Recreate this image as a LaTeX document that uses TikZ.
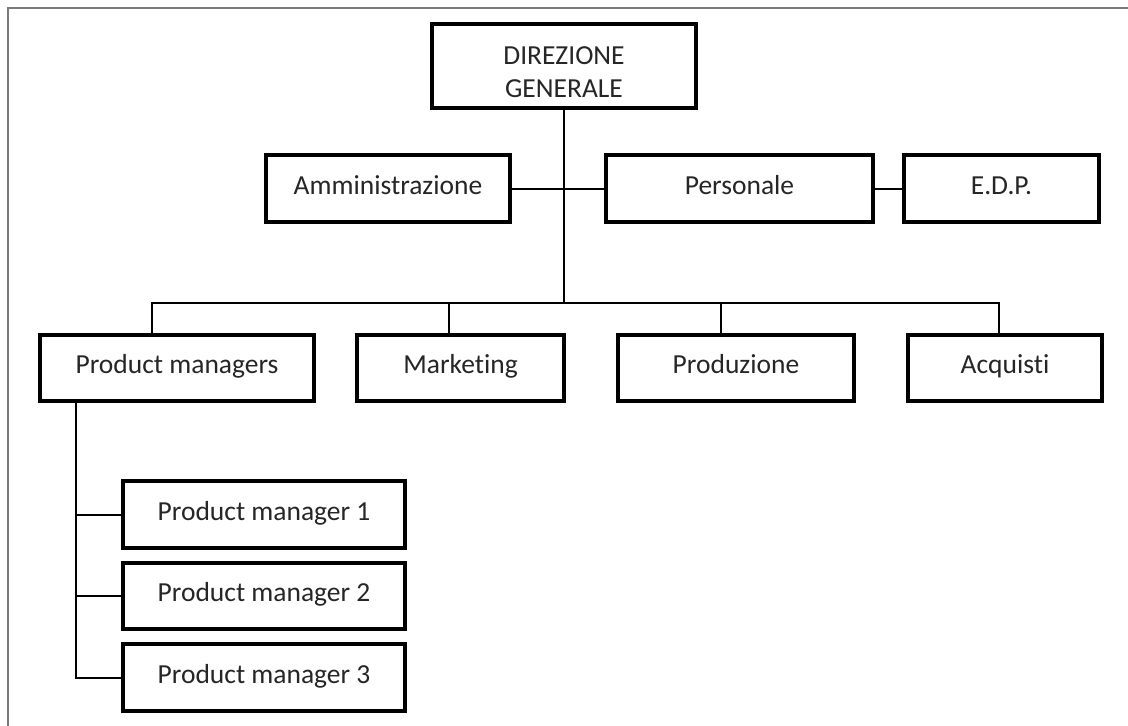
\documentclass[tikz,border=0pt]{standalone}
\usepackage{fontspec}
\setmainfont{Carlito}[RawFeature=-liga]
\definecolor{txt}{HTML}{262626}
\definecolor{frame}{HTML}{7A7A7A}
\begin{document}
\begin{tikzpicture}[x=1pt,y=-1pt,
  box/.style={draw=black,line width=2.6pt,fill=white,rectangle,inner sep=0pt,
    minimum height=65pt,text=txt,font=\fontsize{27.5}{33}\selectfont,
    text height=18pt,text depth=7pt},
  bigbox/.style={draw=black,line width=2.6pt,fill=white,rectangle,inner sep=0pt,
    text=txt,font=\fontsize{27.5}{33}\selectfont},
  conn/.style={draw=black,line width=2pt},
  framel/.style={draw=frame,line width=2.2pt}]
\useasboundingbox (0,0) rectangle (1128,726);
\fill[white] (0,0) rectangle (1128,726);
% frame (top and left only)
\coordinate (f0) at (8,8);
\coordinate (f1) at (1128,8);
\coordinate (f2) at (8,726);
\draw[framel] (f1) -- (f0) -- (f2);
% nodes
\node[bigbox,minimum width=262pt,minimum height=82pt] (dg) at (564,66)
  {\rule{0pt}{56pt}\begin{tabular}{@{}c@{}}DIREZIONE\\GENERALE\end{tabular}};
\node[box,minimum width=242pt] (amm) at (388,188.5) {Amministrazione};
\node[box,minimum width=265pt] (pers) at (739.5,188.5) {Personale};
\node[box,minimum width=193pt] (edp) at (1001.5,188.5) {E.D.P.};
\node[box,minimum width=272pt,minimum height=64pt] (pms) at (177,368) {Product managers};
\node[box,minimum width=205pt,minimum height=64pt] (mkt) at (460.5,368) {Marketing};
\node[box,minimum width=234pt,minimum height=64pt] (prod) at (736,368) {Produzione};
\node[box,minimum width=192pt,minimum height=64pt] (acq) at (1005,368) {Acquisti};
\node[box,minimum width=280pt] (pm1) at (264,514.5) {Product manager 1};
\node[box,minimum width=280pt,minimum height=64pt] (pm2) at (264,596) {Product manager 2};
\node[box,minimum width=280pt] (pm3) at (264,677.5) {Product manager 3};
% bus coordinates
\coordinate (hub) at (564,303);
\coordinate (b1) at (152,303);
\coordinate (b2) at (449,303);
\coordinate (b3) at (721,303);
\coordinate (b4) at (999,303);
\coordinate (vx) at (76,0);
% connectors
\draw[conn] (dg.south) -- (hub);
\draw[conn] (amm.east) -- (pers.west);
\draw[conn] (pers.east) -- (edp.west);
\draw[conn] (b1 |- pms.north) -- (b1) -- (b4) -- (b4 |- acq.north);
\draw[conn] (b2) -- (b2 |- mkt.north);
\draw[conn] (b3) -- (b3 |- prod.north);
\draw[conn] (vx |- pms.south) |- (pm3.west);
\draw[conn] (vx |- pm1.west) -- (pm1.west);
\draw[conn] (vx |- pm2.west) -- (pm2.west);
% redraw box borders over connector ends
\foreach \n in {dg,amm,pers,edp,pms,mkt,prod,acq,pm1,pm2,pm3}{
  \draw[line width=2.6pt] (\n.north west) rectangle (\n.south east);
}
\end{tikzpicture}
\end{document}
